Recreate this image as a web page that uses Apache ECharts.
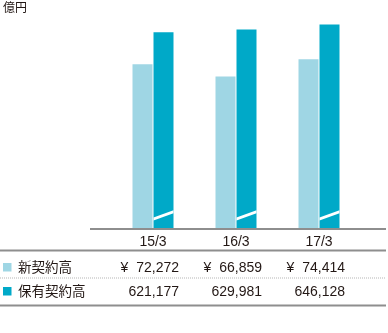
<!DOCTYPE html>
<html>
<head>
<meta charset="utf-8">
<script src="https://cdn.jsdelivr.net/npm/echarts@6/dist/echarts.min.js"></script>
<style>html,body{margin:0;padding:0;background:#fff;}#c{width:388px;height:333px;}</style>
</head>
<body>
<div id="c"></div>
<script>
const categories = ['15/3', '16/3', '17/3'];
const seriesNames = ['新契約高', '保有契約高'];
const newContracts = [72272, 66859, 74414];
const inForce = [621177, 629981, 646128];
const unitLabel = '億円';

const LIGHT = '#9fd6e4';
const TEAL = '#00a9c8';
const LINE = '#8e8e8e';
const TEXT = '#231815';
const FONT = '"Liberation Sans", "Noto Sans CJK JP", sans-serif';
const JFONT = '"Noto Sans CJK JP", sans-serif';

const chart = echarts.init(document.getElementById('c'), null, {renderer: 'canvas'});
const fmt = v => v.toLocaleString('en-US');

const option = {
  animation: false,
  grid: {left: 111.5, right: 27.5, top: 1, bottom: 104},
  xAxis: {
    type: 'category', data: categories,
    axisLine: {show: false}, axisTick: {show: false},
    axisLabel: {margin: 6, fontSize: 14, color: TEXT, fontFamily: FONT}
  },
  yAxis: [
    {type: 'value', min: 0, max: 100000, show: false},
    {type: 'value', min: 0, max: 720000, show: false}
  ],
  series: [
    {name: seriesNames[0], type: 'bar', yAxisIndex: 0, data: newContracts,
     barWidth: 20, barGap: '5%', itemStyle: {color: LIGHT}},
    {name: seriesNames[1], type: 'bar', yAxisIndex: 1, data: inForce,
     barWidth: 20, barGap: '5%', itemStyle: {color: TEAL}},
    {type: 'custom', yAxisIndex: 1, clip: false, z: 5,
     data: categories.map((c, i) => i),
     renderItem: function (params, api) {
       const c = api.coord([api.value(0), 0]);
       const x0 = c[0] + 0.5, x1 = c[0] + 20.5, y = c[1];
       return {type: 'polygon', shape: {points: [[x0, y - 8.5], [x1, y - 15.8], [x1, y - 18.8], [x0, y - 11.5]]},
               style: {fill: '#fff'}};
     }}
  ]
};
chart.setOption(option);

const g = [];
g.push({type: 'text', left: 3, top: 1, style: {text: unitLabel, fontSize: 12, fill: TEXT, fontFamily: JFONT}});
g.push({type: 'line', shape: {x1: 90, y1: 229, x2: 386, y2: 229}, style: {stroke: LINE, lineWidth: 2}, z: 10});
g.push({type: 'line', shape: {x1: 0, y1: 250.5, x2: 386, y2: 250.5}, style: {stroke: LINE, lineWidth: 2}});
g.push({type: 'line', shape: {x1: 0, y1: 278, x2: 386, y2: 278}, style: {stroke: '#b5b5b5', lineWidth: 1, lineDash: [1, 1]}});
g.push({type: 'line', shape: {x1: 0, y1: 305.5, x2: 386, y2: 305.5}, style: {stroke: LINE, lineWidth: 2}});
const rowY = [267, 291];
const colors = [LIGHT, TEAL];
seriesNames.forEach((n, r) => {
  g.push({type: 'rect', shape: {x: 3, y: rowY[r] - 4, width: 8.5, height: 8.5}, style: {fill: colors[r]}});
  g.push({type: 'text', x: 18, y: rowY[r], style: {text: n, fontSize: 13.5, fill: TEXT, fontFamily: JFONT, verticalAlign: 'middle'}});
});
categories.forEach((c, i) => {
  const cx = chart.convertToPixel({xAxisIndex: 0}, i);
  g.push({type: 'text', x: cx + 26, y: rowY[0] + 1, style: {text: '¥  ' + fmt(newContracts[i]), fontSize: 14, fill: TEXT, fontFamily: FONT, align: 'right', verticalAlign: 'middle'}});
  g.push({type: 'text', x: cx + 26, y: rowY[1] + 1, style: {text: fmt(inForce[i]), fontSize: 14, fill: TEXT, fontFamily: FONT, align: 'right', verticalAlign: 'middle'}});
});
chart.setOption({graphic: g});
</script>
</body>
</html>
